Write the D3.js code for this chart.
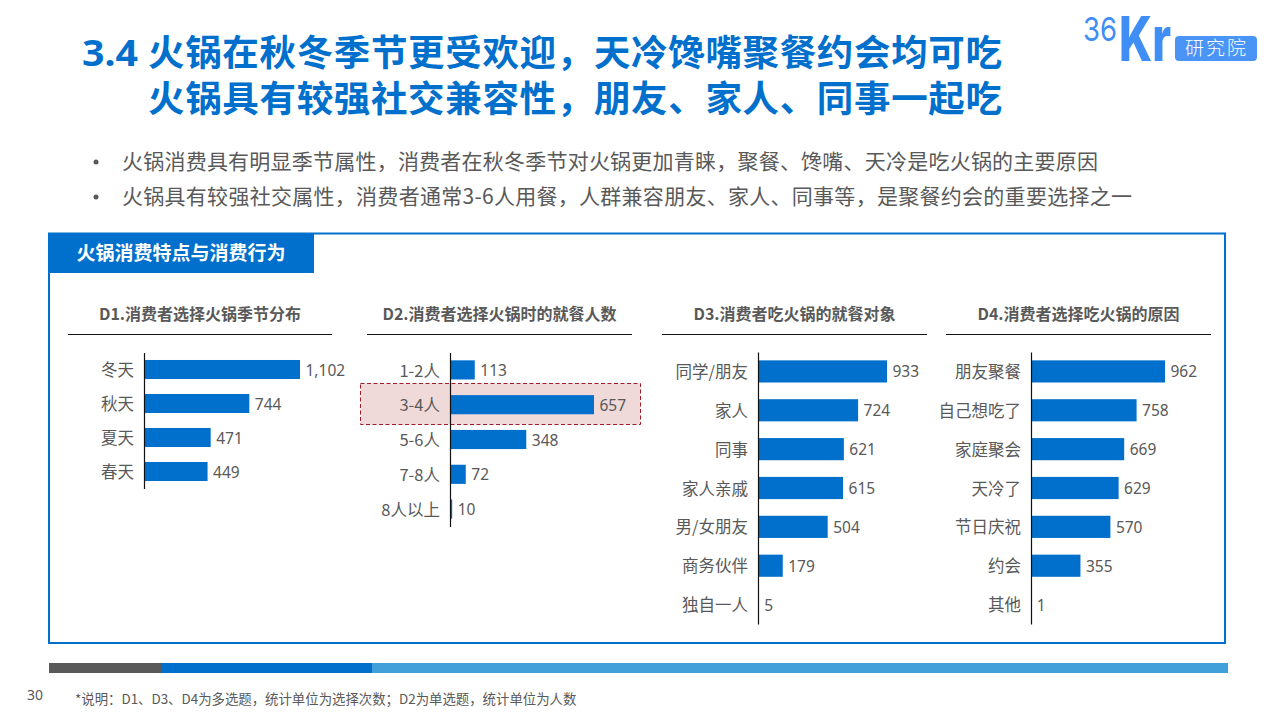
<!DOCTYPE html>
<html>
<head>
<meta charset="utf-8">
<script src="https://cdn.jsdelivr.net/npm/d3@7"></script>
<style>
html,body{margin:0;padding:0;background:#fff;}
svg{display:block;}
text{font-family:"Noto Sans CJK SC","Noto Sans",sans-serif;}
</style>
</head>
<body>
<div id="slide"></div>
<script>
// chart values
var d1Labels = ["冬天","秋天","夏天","春天"];
var d1Values = [1102,744,471,449];
var d2Labels = ["1-2人","3-4人","5-6人","7-8人","8人以上"];
var d2Values = [113,657,348,72,10];
var d3Labels = ["同学/朋友","家人","同事","家人亲戚","男/女朋友","商务伙伴","独自一人"];
var d3Values = [933,724,621,615,504,179,5];
var d4Labels = ["朋友聚餐","自己想吃了","家庭聚会","天冷了","节日庆祝","约会","其他"];
var d4Values = [962,758,669,629,570,355,1];

var titleLines = ["火锅在秋冬季节更受欢迎，天冷馋嘴聚餐约会均可吃","火锅具有较强社交兼容性，朋友、家人、同事一起吃"];
var bullets = ["火锅消费具有明显季节属性，消费者在秋冬季节对火锅更加青睐，聚餐、馋嘴、天冷是吃火锅的主要原因",
               "火锅具有较强社交属性，消费者通常3-6人用餐，人群兼容朋友、家人、同事等，是聚餐约会的重要选择之一"];

var blue = "#0070cc", grey = "#595959";

var svg = d3.select("#slide").append("svg")
	.attr("width", 1280)
	.attr("height", 720);

// heading
svg.append("text").attr("x", 82).attr("y", 66)
	.attr("font-size", 36).attr("font-weight", 700).attr("fill", blue)
	.style("font-family", "Noto Sans").attr("textLength", 56).attr("lengthAdjust", "spacingAndGlyphs")
	.text("3.4");
titleLines.forEach(function(t, i){
	svg.append("text").attr("x", 148).attr("y", 66 + i * 45.5)
		.attr("font-size", 36.5).attr("font-weight", 700).attr("fill", blue)
		.attr("textLength", 854).attr("lengthAdjust", "spacing")
		.text(t);
});

// bullets
bullets.forEach(function(t, i){
	var y = 169 + i * 35;
	svg.append("circle").attr("cx", 96).attr("cy", y - 7).attr("r", 2.5).attr("fill", grey);
	svg.append("text").attr("x", 122).attr("y", y)
		.attr("font-size", 21).attr("fill", grey)
		.attr("textLength", i == 0 ? 976 : 1010).attr("lengthAdjust", "spacing")
		.text(t);
});

// logo
var logo = svg.append("g");
logo.append("text").attr("x", 1083).attr("y", 41)
	.attr("font-size", 33).attr("font-weight", 400).attr("fill", "#3f8ef5")
	.style("font-family", "Inter").attr("textLength", 34)
	.attr("lengthAdjust", "spacingAndGlyphs").text("36");
logo.append("text").attr("x", 1119).attr("y", 61)
	.attr("font-size", 62).attr("font-weight", 800).attr("fill", "#3f8ef5")
	.style("font-family", "Inter").attr("textLength", 52)
	.attr("lengthAdjust", "spacingAndGlyphs").text("Kr");
logo.append("rect").attr("x", 1175).attr("y", 36).attr("width", 82).attr("height", 25)
	.attr("rx", 4).attr("fill", "#4a94f6");
logo.append("text").attr("x", 1216.5).attr("y", 55).attr("text-anchor", "middle")
	.attr("font-size", 19).attr("fill", "#fff").attr("letter-spacing", 2).attr("font-weight", 300)
	.text("研究院");

// panel frame
svg.append("rect").attr("x", 49).attr("y", 233.5).attr("width", 1176).attr("height", 409.5)
	.attr("fill", "none").attr("stroke", blue).attr("stroke-width", 2);
svg.append("rect").attr("x", 49).attr("y", 233).attr("width", 265).attr("height", 40).attr("fill", blue);
svg.append("text").attr("x", 181).attr("y", 260).attr("text-anchor", "middle")
	.attr("font-size", 19).attr("font-weight", 700).attr("fill", "#fff")
	.text("火锅消费特点与消费行为");

// highlight behind 3-4人 row
svg.append("rect").attr("x", 360.5).attr("y", 383.5).attr("width", 280).attr("height", 41)
	.attr("fill", "#efd9d9").attr("stroke", "#a01c2c").attr("stroke-width", 1).attr("stroke-dasharray", "4,2.5");

function drawPanel(opt){
	// panel heading and rule
	svg.append("text").attr("x", (opt.ruleX[0] + opt.ruleX[1]) / 2).attr("y", 319.5)
		.attr("text-anchor", "middle").attr("font-size", 16).attr("font-weight", 700).attr("fill", grey)
		.text(opt.title);
	svg.append("line").attr("x1", opt.ruleX[0]).attr("x2", opt.ruleX[1]).attr("y1", 334.5).attr("y2", 334.5)
		.attr("stroke", "#111").attr("stroke-width", 1);

	var x = d3.scaleLinear().domain([0, d3.max(opt.values)]).range([opt.axisX, opt.axisX + opt.maxWidth]);
	var y = d3.scaleBand().domain(opt.labels).range(opt.yRange).paddingInner(opt.gap).paddingOuter(opt.gap / 2);

	var rows = opt.labels.map(function(l, i){ return {label: l, value: opt.values[i]}; });

	svg.selectAll("rect.bar-" + opt.id)
		.data(rows).enter().append("rect")
		.attr("class", "bar-" + opt.id)
		.attr("x", x(0))
		.attr("y", function(d){ return y(d.label); })
		.attr("width", function(d){ return x(d.value) - x(0); })
		.attr("height", y.bandwidth())
		.attr("fill", blue);

	svg.selectAll("text.val-" + opt.id)
		.data(rows).enter().append("text")
		.attr("class", "val-" + opt.id)
		.attr("x", function(d){ return x(d.value) + 5.5; })
		.attr("y", function(d){ return y(d.label) + y.bandwidth() / 2 + 6; })
		.attr("font-size", 15.5).attr("fill", grey)
		.style("font-family", "Noto Sans")
		.text(function(d){ return d3.format(",")(d.value); });

	var axis = svg.append("g")
		.attr("transform", "translate(" + opt.axisX + ",0)")
		.call(d3.axisLeft(y).tickSize(0).tickPadding(10));
	axis.select(".domain").attr("stroke", "#111").attr("stroke-width", 1.2);
	axis.selectAll("text").attr("font-size", 16.5).attr("fill", grey).attr("dy", "0.4em")
		.style("font-family", '"Noto Sans CJK SC"');
}

drawPanel({id:"d1", title:"D1.消费者选择火锅季节分布", labels:d1Labels, values:d1Values,
	ruleX:[68,332], axisX:144, maxWidth:156, yRange:[352.5,488.5], gap:0.44});
drawPanel({id:"d2", title:"D2.消费者选择火锅时的就餐人数", labels:d2Labels, values:d2Values,
	ruleX:[367,632], axisX:450, maxWidth:144, yRange:[352.5,526.5], gap:0.45});
drawPanel({id:"d3", title:"D3.消费者吃火锅的就餐对象", labels:d3Labels, values:d3Values,
	ruleX:[662,927], axisX:758, maxWidth:129, yRange:[352,624], gap:0.43});
drawPanel({id:"d4", title:"D4.消费者选择吃火锅的原因", labels:d4Labels, values:d4Values,
	ruleX:[946,1211], axisX:1031, maxWidth:134, yRange:[352,624], gap:0.43});

// footer strip
svg.append("rect").attr("x", 49).attr("y", 663).attr("width", 113).attr("height", 10).attr("fill", grey);
svg.append("rect").attr("x", 162).attr("y", 663).attr("width", 210).attr("height", 10).attr("fill", blue);
svg.append("rect").attr("x", 372).attr("y", 663).attr("width", 856).attr("height", 10).attr("fill", "#41a0d9");

svg.append("text").attr("x", 27).attr("y", 700).attr("font-size", 14).attr("fill", grey)
	.style("font-family", "Noto Sans").text("30");
svg.append("text").attr("x", 75).attr("y", 704).attr("font-size", 13.4).attr("fill", grey)
	.text("*说明：D1、D3、D4为多选题，统计单位为选择次数；D2为单选题，统计单位为人数");
</script>
</body>
</html>
